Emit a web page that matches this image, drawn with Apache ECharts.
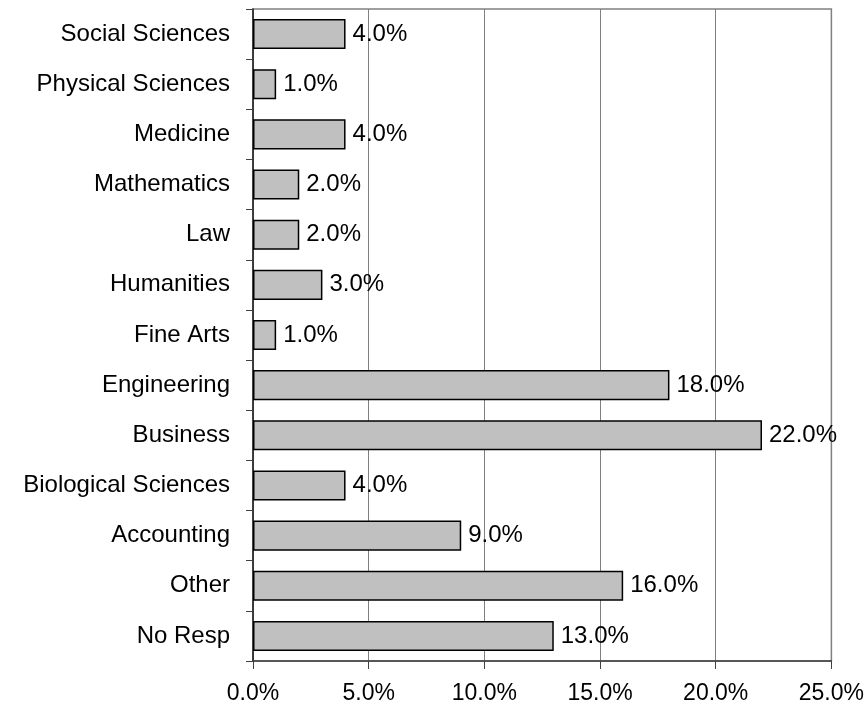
<!DOCTYPE html>
<html>
<head>
<meta charset="utf-8">
<script src="https://cdn.jsdelivr.net/npm/echarts@6/dist/echarts.min.js"></script>
<style>
  html, body { margin: 0; padding: 0; background: #fff; }
  #main { width: 867px; height: 709px; }
</style>
</head>
<body>
<div id="main"></div>
<script>
// categories top to bottom
var categories = ['Social Sciences', 'Physical Sciences', 'Medicine', 'Mathematics', 'Law', 'Humanities',
  'Fine Arts', 'Engineering', 'Business', 'Biological Sciences', 'Accounting', 'Other', 'No Resp'];
var percents = [4, 1, 4, 2, 2, 3, 1, 18, 22, 4, 9, 16, 13];

var chart = echarts.init(document.getElementById('main'));
var option = {
  animation: false,
  textStyle: { fontFamily: 'Liberation Sans, Arial, sans-serif' },
  grid: {
    left: 253, right: 34, top: 9, bottom: 48,
    show: true, borderColor: '#808080', borderWidth: 1.5
  },
  xAxis: {
    type: 'value',
    min: 0, max: 25, interval: 5,
    axisLine: { show: true, lineStyle: { color: '#404040', width: 1.5 } },
    axisTick: { show: true, length: 8, lineStyle: { color: '#404040' } },
    axisLabel: {
      color: '#000', fontSize: 23, margin: 21,
      formatter: function (v) { return v.toFixed(1) + '%'; }
    },
    splitLine: { show: true, lineStyle: { color: '#808080', width: 1 } }
  },
  yAxis: {
    type: 'category',
    inverse: true,
    data: categories,
    axisLine: { show: true, lineStyle: { color: '#202020', width: 1.5 } },
    axisTick: { show: true, length: 7, lineStyle: { color: '#404040' } },
    axisLabel: { color: '#000', fontSize: 24, margin: 23 }
  },
  series: [{
    type: 'bar',
    data: percents,
    barWidth: '60%',
    itemStyle: { color: '#c0c0c0', borderColor: '#000', borderWidth: 1.5 },
    label: {
      show: true, position: 'right', distance: 7,
      color: '#000', fontSize: 24,
      formatter: function (p) { return p.value.toFixed(1) + '%'; }
    }
  }]
};
chart.setOption(option);
</script>
</body>
</html>
